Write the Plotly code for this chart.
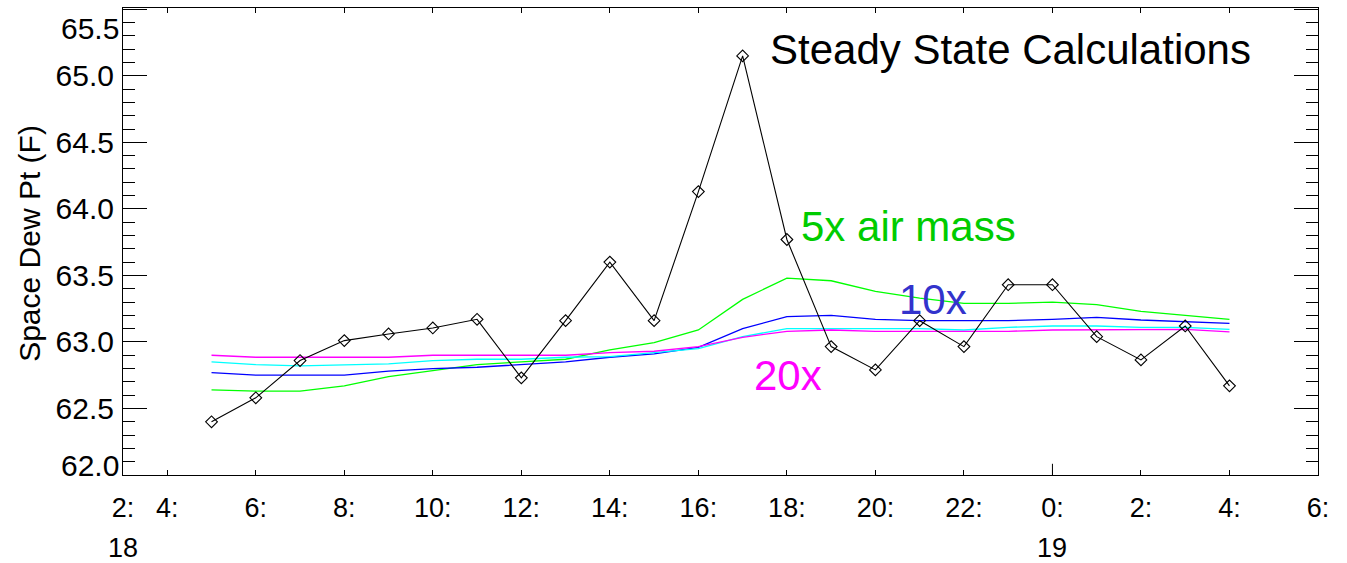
import plotly.graph_objects as go

# Hours since 0:00 on day 18 (5:00 day 18 .. 4:00 day 19)
hours = list(range(5, 29))

# Measured space dew point (F)
measured = [62.40, 62.58, 62.86, 63.01, 63.06, 63.105, 63.17, 62.73, 63.16, 63.60,
            63.16, 64.13, 65.15, 63.77, 62.965, 62.79, 63.16, 62.965, 63.43, 63.43,
            63.04, 62.865, 63.12, 62.67]

# Steady state calculations for different air mass multipliers
calc_5x = [62.64, 62.63, 62.63, 62.67, 62.74, 62.785, 62.83, 62.85, 62.87, 62.94,
           62.995, 63.09, 63.32, 63.48, 63.46, 63.38, 63.33, 63.29, 63.29, 63.30,
           63.28, 63.23, 63.20, 63.17]
calc_10x = [62.77, 62.75, 62.75, 62.75, 62.78, 62.80, 62.81, 62.83, 62.85, 62.885,
            62.91, 62.96, 63.10, 63.19, 63.20, 63.17, 63.16, 63.16, 63.16, 63.17,
            63.185, 63.165, 63.15, 63.14]
calc_15x = [62.85, 62.83, 62.82, 62.83, 62.835, 62.86, 62.87, 62.87, 62.885, 62.89,
            62.92, 62.95, 63.04, 63.10, 63.10, 63.10, 63.10, 63.09, 63.11, 63.12,
            63.12, 63.11, 63.11, 63.095]
calc_20x = [62.90, 62.885, 62.885, 62.885, 62.885, 62.90, 62.90, 62.90, 62.90, 62.92,
            62.93, 62.965, 63.035, 63.08, 63.09, 63.08, 63.08, 63.08, 63.08, 63.09,
            63.09, 63.09, 63.095, 63.075]

# Time axis ticks and labels
x_tickvals = [3, 4, 6, 8, 10, 12, 14, 16, 18, 20, 22, 24, 26, 28, 30]
x_ticktext = ["2:", "4:", "6:", "8:", "10:", "12:", "14:", "16:", "18:", "20:",
              "22:", "0:", "2:", "4:", "6:"]
y_tickvals = [62.0, 62.5, 63.0, 63.5, 64.0, 64.5, 65.0, 65.5]
y_ticktext = ["", "62.5", "63.0", "63.5", "64.0", "64.5", "65.0", ""]

FONT = "Liberation Sans, Arial, Helvetica, sans-serif"
YFONT = 30

fig = go.Figure()

for vals, col in [(calc_5x, "#00FF00"), (calc_10x, "#0000FF"),
                  (calc_15x, "#00FFFF"), (calc_20x, "#FF00FF")]:
    fig.add_trace(go.Scatter(x=hours, y=vals, mode="lines",
                             line=dict(color=col, width=1.3), showlegend=False))

fig.add_trace(go.Scatter(x=hours, y=measured, mode="lines+markers",
                         line=dict(color="black", width=1.1),
                         marker=dict(symbol="diamond-open", size=9, color="black",
                                     line=dict(width=1.1)),
                         showlegend=False))

fig.update_layout(
    width=1347, height=563,
    margin=dict(l=123, r=29, t=8, b=88),
    paper_bgcolor="white", plot_bgcolor="white",
    font=dict(family=FONT, color="black"),
    xaxis=dict(range=[3, 30], tickvals=x_tickvals, ticktext=x_ticktext,
               ticks="inside", ticklen=5, tickcolor="black", tickwidth=1,
               showline=True, linecolor="black", linewidth=1, mirror="allticks",
               showgrid=False, zeroline=False, tickfont=dict(size=27),
               ticklabelstandoff=9),
    yaxis=dict(range=[62.0, 65.51], tickvals=y_tickvals, ticktext=y_ticktext,
               ticks="inside", ticklen=24, tickcolor="black", tickwidth=1,
               minor=dict(dtick=0.1, ticks="inside", ticklen=12, tickcolor="black"),
               showline=True, linecolor="black", linewidth=1, mirror="allticks",
               showgrid=False, zeroline=False, tickfont=dict(size=YFONT),
               ticklabelstandoff=2),
)

# Longer tick marking midnight
fig.add_shape(type="line", xref="x", yref="paper", x0=24, x1=24, y0=0, y1=0.024,
              line=dict(color="black", width=1))

annots = [
    # end labels of the y axis, set just inside the frame
    dict(text="65.5", xref="paper", yref="paper", x=0, y=1, xanchor="right",
         yanchor="middle", xshift=-2, yshift=-20, font=dict(size=YFONT)),
    dict(text="62.0", xref="paper", yref="paper", x=0, y=0, xanchor="right",
         yanchor="middle", xshift=-2, yshift=10, font=dict(size=YFONT)),
    # day labels under the time axis
    dict(text="18", xref="x", yref="paper", x=3, y=0, yanchor="middle",
         yshift=-73, font=dict(size=27)),
    dict(text="19", xref="x", yref="paper", x=24, y=0, yanchor="middle",
         yshift=-73, font=dict(size=27)),
    dict(text="Space Dew Pt (F)", xref="paper", yref="paper", x=0, y=0.495,
         xanchor="center", yanchor="middle", xshift=-93, textangle=-90,
         font=dict(size=30)),
    dict(text="Steady State Calculations", xref="paper", yref="paper", x=0.540,
         y=0.911, xanchor="left", yanchor="middle", font=dict(size=42)),
    dict(text="5x air mass", xref="paper", yref="paper", x=0.566, y=0.533,
         xanchor="left", yanchor="middle", font=dict(size=42, color="#00CC00")),
    dict(text="10x", xref="paper", yref="paper", x=0.648, y=0.375,
         xanchor="left", yanchor="middle", font=dict(size=42, color="#3333CC")),
    dict(text="20x", xref="paper", yref="paper", x=0.526, y=0.213,
         xanchor="left", yanchor="middle", font=dict(size=42, color="#FF00FF")),
]
for a in annots:
    a.setdefault("showarrow", False)
    fig.add_annotation(**a)

fig.write_html("out.html")
